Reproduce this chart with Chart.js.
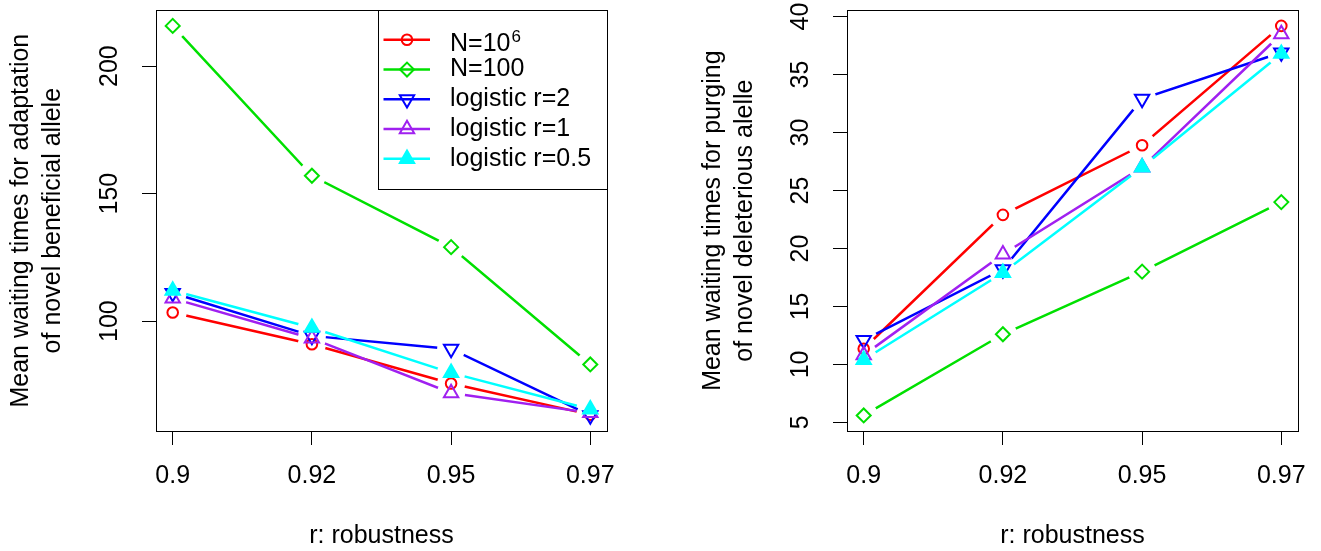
<!DOCTYPE html>
<html>
<head>
<meta charset="utf-8">
<script src="https://cdn.jsdelivr.net/npm/chart.js@4.4.1/dist/chart.umd.min.js"></script>
<style>
  body { margin: 0; background: #fff; }
  canvas { position: absolute; top: 0; }
</style>
</head>
<body>
<canvas id="left" width="660" height="551" style="left:0"></canvas>
<canvas id="right" width="661" height="551" style="left:660px"></canvas>
<script>
// x categories
const robustness = ['0.9', '0.92', '0.95', '0.97'];

// left panel: adaptation of novel beneficial allele
const adaptN1e6 = [103.4, 90.9, 75.5, 63.3];
const adaptN100 = [215.8, 157, 129, 83];
const adaptLog2 = [111, 94.2, 89.1, 63.0];
const adaptLog1 = [108.9, 93.2, 71.8, 64];
const adaptLog05 = [112, 97.4, 79.7, 65.4];
const adaptTicks = [100, 150, 200];

// right panel: purging of novel deleterious allele
const purgeN1e6 = [11.35, 22.9, 28.9, 39.2];
const purgeN100 = [5.6, 12.6, 18.0, 24.0];
const purgeLog2 = [12.1, 18.2, 32.9, 36.9];
const purgeLog1 = [10.8, 19.5, 27.0, 38.5];
const purgeLog05 = [10.4, 17.9, 27.0, 36.8];
const purgeTicks = [5, 10, 15, 20, 25, 30, 35, 40];

const FONT = '"Liberation Sans", Arial, sans-serif';
Chart.defaults.font.family = FONT;
Chart.defaults.font.size = 25;
Chart.defaults.color = '#000';

// style of each series (same order in both panels)
const styles = [
  { color: '#ff0000', pointStyle: 'circle', rot: 0, r: 5.3, fill: false },
  { color: '#00e000', pointStyle: 'rectRot', rot: 0, r: 7, fill: false },
  { color: '#0000ff', pointStyle: 'triangle', rot: 180, r: 8.3, fill: false },
  { color: '#a020f0', pointStyle: 'triangle', rot: 0, r: 8.3, fill: false },
  { color: '#00ffff', pointStyle: 'triangle', rot: 0, r: 8.3, fill: true }
];
const GAP = 14;

// R type="b": line stops short of each point
const gapPlugin = {
  id: 'gap',
  beforeDatasetDraw(chart, args) {
    const meta = args.meta;
    const line = meta.dataset;
    if (!line || line._gapped) return;
    const orig = line.draw.bind(line);
    line.draw = function (ctx, area, start, count) {
      ctx.save();
      ctx.beginPath();
      ctx.rect(0, 0, chart.width, chart.height);
      meta.data.forEach(p => {
        ctx.moveTo(p.x + GAP, p.y);
        ctx.arc(p.x, p.y, GAP, 0, Math.PI * 2);
      });
      ctx.clip('evenodd');
      orig(ctx, area, start, count);
      ctx.restore();
    };
    line._gapped = true;
  }
};

const boxPlugin = {
  id: 'box',
  afterDraw(chart) {
    const { ctx, chartArea: a } = chart;
    ctx.save();
    ctx.strokeStyle = '#000';
    ctx.lineWidth = 1;
    ctx.strokeRect(Math.round(a.left) + 0.5, Math.round(a.top) + 0.5,
      Math.round(a.right - a.left), Math.round(a.bottom - a.top));
    ctx.restore();
  }
};

const legendPlugin = {
  id: 'rlegend',
  afterDraw(chart) {
    const { ctx, chartArea: a } = chart;
    const w = 229, h = 179;
    const x0 = a.right - w, y0 = a.top;
    ctx.save();
    ctx.fillStyle = '#fff';
    ctx.fillRect(x0, y0, w, h);
    ctx.strokeStyle = '#000';
    ctx.lineWidth = 1;
    ctx.strokeRect(Math.round(x0) + 0.5, Math.round(y0) + 0.5, w, h);
    styles.forEach((s, i) => {
      const y = y0 + 29.5 + i * 29.75;
      ctx.strokeStyle = s.color;
      ctx.fillStyle = s.fill ? s.color : 'rgba(0,0,0,0)';
      ctx.lineWidth = 2.5;
      ctx.beginPath();
      ctx.moveTo(x0 + 5.5, y);
      ctx.lineTo(x0 + 52, y);
      ctx.stroke();
      ctx.lineWidth = 2;
      Chart.helpers.drawPoint(ctx, { pointStyle: s.pointStyle, rotation: s.rot, radius: s.r, borderWidth: 2 }, x0 + 29, y);
      ctx.fillStyle = '#000';
      const tx = x0 + 72;
      if (i === 0) {
        ctx.font = '25px ' + FONT;
        ctx.textBaseline = 'alphabetic';
        ctx.fillText('N=10', tx, y + 11);
        const tw = ctx.measureText('N=10').width;
        ctx.font = '17px ' + FONT;
        ctx.fillText('6', tx + tw + 1, y + 2);
      } else {
        ctx.font = '25px ' + FONT;
        ctx.textBaseline = 'middle';
        ctx.fillText(['N=100', 'logistic r=2', 'logistic r=1', 'logistic r=0.5'][i - 1], tx, y);
      }
    });
    ctx.restore();
  }
};

function rRange(arrays) {
  const all = arrays.flat();
  const lo = Math.min(...all), hi = Math.max(...all);
  const d = (hi - lo) * 0.04;
  return [lo - d, hi + d];
}

function makePanel(id, series, ticks, titleLines, geo, plugins) {
  const [ymin, ymax] = rRange(series);
  const datasets = series.map((vals, k) => {
    const s = styles[k];
    return {
      data: vals.map((v, i) => ({ x: i, y: v })),
      borderColor: s.color,
      borderWidth: 2.5,
      pointStyle: s.pointStyle,
      pointRotation: s.rot,
      pointRadius: s.r,
      pointHoverRadius: s.r,
      pointBorderWidth: 2,
      pointBorderColor: s.color,
      pointBackgroundColor: s.fill ? s.color : 'rgba(0,0,0,0)',
      tension: 0,
      clip: false,
      order: series.length - k
    };
  });
  return new Chart(document.getElementById(id), {
    type: 'line',
    data: { datasets },
    plugins: [gapPlugin, boxPlugin].concat(plugins),
    options: {
      responsive: false,
      animation: false,
      events: [],
      layout: { padding: { left: 0, top: 10, right: geo.right, bottom: 0 } },
      plugins: { legend: { display: false }, tooltip: { enabled: false } },
      scales: {
        x: {
          type: 'linear',
          min: -0.12,
          max: robustness.length - 1 + 0.12,
          afterBuildTicks: s => { s.ticks = robustness.map((_, i) => ({ value: i })); },
          afterFit: s => { s.height = 120; s.paddingLeft = 0; s.paddingRight = 0; },
          grid: { drawOnChartArea: false, tickLength: 14, color: '#000', lineWidth: 1 },
          border: { display: false },
          ticks: {
            autoSkip: false, maxRotation: 0, padding: 16.3, color: '#000',
            callback: v => robustness[v]
          },
          title: { display: true, text: 'r: robustness', color: '#000', padding: { top: 0, bottom: 0 } }
        },
        y: {
          type: 'linear',
          min: ymin,
          max: ymax,
          afterBuildTicks: s => { s.ticks = ticks.map(v => ({ value: v })); },
          afterFit: s => { s.width = geo.yWidth; s.paddingTop = 0; s.paddingBottom = 0; },
          grid: { drawOnChartArea: false, tickLength: 14, color: '#000', lineWidth: 1 },
          border: { display: false },
          ticks: { minRotation: 90, maxRotation: 90, crossAlign: 'center', padding: geo.tickPad, color: '#000' },
          title: {
            display: true, text: titleLines, color: '#000',
            font: { size: 25, lineHeight: '32px' },
            padding: { top: geo.titlePad, bottom: 0 }
          }
        }
      }
    }
  });
}

makePanel('left',
  [adaptN1e6, adaptN100, adaptLog2, adaptLog1, adaptLog05],
  adaptTicks,
  ['Mean waiting times for adaptation', 'of novel beneficial allele'],
  { right: 53, yWidth: 156, tickPad: 11.5, titlePad: 5.3 },
  [legendPlugin]);

makePanel('right',
  [purgeN1e6, purgeN100, purgeLog2, purgeLog1, purgeLog05],
  purgeTicks,
  ['Mean waiting times for purging', 'of novel deleterious alelle'],
  { right: 23, yWidth: 187, tickPad: 17.8, titlePad: 37 },
  []);
</script>
</body>
</html>
